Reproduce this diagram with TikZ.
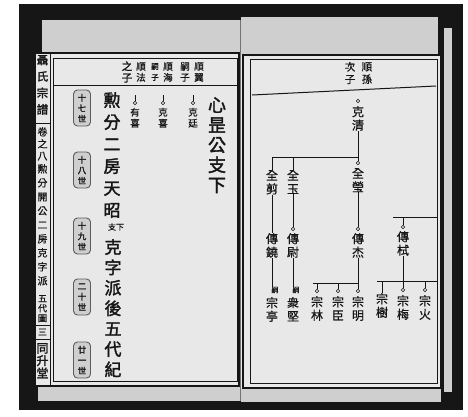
\documentclass[tikz,border=0pt]{standalone}
\usepackage{fontspec}
\newfontfamily\cjk{Noto Sans CJK TC}[FakeBold=0.8]
\newfontfamily\cjkb{Noto Sans CJK TC}[FakeBold=2]
\usetikzlibrary{positioning}
\definecolor{paper}{HTML}{E8E8E8}
\definecolor{strip}{HTML}{CFCFCF}
\definecolor{ink}{HTML}{161616}
\tikzset{
  member/.style={font=\cjk\fontsize{12}{13.5}\selectfont, align=center, inner sep=0pt, text=ink},
  smallcol/.style={font=\cjk\fontsize{9.5}{11}\selectfont, align=center, inner sep=0pt, text=ink},
  bigcol/.style={font=\cjkb\fontsize{17}{22}\selectfont, align=center, inner sep=0pt, text=ink},
  sidecol/.style={font=\cjk\fontsize{10}{14}\selectfont, align=center, inner sep=0pt, text=ink},
  ring/.style={circle, draw=ink, line width=0.6pt, minimum size=3.6pt, inner sep=0pt},
  sealbox/.style={draw=ink!70, fill=strip, line width=0.9pt, rounded corners=4pt,
    minimum width=17pt, minimum height=36pt, inner sep=0pt, align=center,
    font=\cjkb\fontsize{8.5}{10.5}\selectfont, text=ink},
  link/.style={draw=ink, line width=0.7pt}
}

\begin{document}
\begin{tikzpicture}[x=1pt,y=-1pt]
  \useasboundingbox (0,0) rectangle (468,416);
  \fill[white] (0,0) rectangle (468,416);
  \fill[ink] (19,4) rectangle (463,410);

  %% pages
  \fill[paper] (35,53) rectangle (240,386);
  \fill[strip] (42,20) rectangle (240,53);
  \fill[strip] (38,386) rectangle (240,401);
  \fill[paper] (241,55) rectangle (441,389);
  \fill[strip] (241,17) rectangle (438,55);
  \fill[strip] (241,389) rectangle (441,402);
  \fill[strip] (443,28) rectangle (452,392); % edge of next leaf
  \draw[ink, line width=0.5pt] (443,28) -- (443,392);
  \draw[ink!60, line width=0.6pt] (240,20) -- (240,401);

  %% left frame
  \draw[ink, line width=1.6pt] (35,53) rectangle (239,386);
  \draw[ink, line width=0.6pt] (50,53) -- (50,386);
  \draw[ink, line width=0.5pt] (53,58) rectangle (237,381);
  \draw[ink, line width=0.8pt] (53,85) -- (237,85);
  \draw[ink, line width=0.5pt] (35,123) -- (50,123);
  \draw[ink, line width=0.5pt] (35,325) -- (50,325);
  \draw[ink, line width=0.5pt] (35,339) -- (50,339);

  %% side column
  \node[sidecol, font=\cjkb\fontsize{11.5}{16.5}\selectfont, anchor=north] (title) at (42.5,55) {聶\\氏\\宗\\譜};
  \node[sidecol, font=\cjk\fontsize{10}{12}\selectfont, anchor=north] (juan) at (42.5,127) {卷\\之\\八};
  \node[sidecol, anchor=north] (chart) at (42.5,164) {勲\\分\\開\\公\\二\\房\\克\\字\\派};
  \node[sidecol, font=\cjk\fontsize{9}{9.8}\selectfont, anchor=north] (wudai) at (42.5,295) {五\\代\\圖};
  \node[sidecol, font=\cjk\fontsize{9}{10}\selectfont] (pageno) at (42.5,332) {三};
  \node[sidecol, font=\cjkb\fontsize{12}{12.5}\selectfont, anchor=north] (hall) at (42.5,343) {同\\升\\堂};

  %% left header
  \node[smallcol] (h1) at (199,72) {順\\翼};
  \node[smallcol] (h2) at (185,72) {嗣\\子};
  \node[smallcol] (h3) at (168,72) {順\\海};
  \node[smallcol, font=\cjk\fontsize{7.5}{11}\selectfont] (h4) at (155,72) {嗣\\子};
  \node[smallcol] (h5) at (141,72) {順\\法};
  \node[smallcol, font=\cjkb\fontsize{10.5}{11.5}\selectfont] (h6) at (127,72) {之\\子};

  %% left body
  \node[bigcol, font=\cjkb\fontsize{18}{20}\selectfont, anchor=north] (branch) at (217,97) {心\\昰\\公\\支\\下};
  \node[ring] (kt-o) at (193,103) {};
  \node[smallcol, below=2.5pt of kt-o] (kt) {克\\廷};
  \node[ring] (kx-o) at (163,103) {};
  \node[smallcol, below=2.5pt of kx-o] (kx) {克\\喜};
  \node[ring] (yx-o) at (135,103) {};
  \node[smallcol, below=2.5pt of yx-o] (yx) {有\\喜};
  \foreach \m in {kt,kx,yx} \draw[link] (\m-o.north) -- ++(0,-6);

  \node[bigcol, anchor=north] (intro) at (112,92) {勲\\分\\二\\房\\天\\昭};
  \node[smallcol, font=\cjk\fontsize{8}{9}\selectfont] (zx) at (116,227) {支下};
  \node[bigcol, font=\cjkb\fontsize{17}{20.4}\selectfont, anchor=north] (record) at (113,239) {克\\字\\派\\後\\五\\代\\紀};

  %% generation seals
  \foreach \g/\y [count=\i] in {十\\七\\世/108, 十\\八\\世/170, 十\\九\\世/236, 二\\十\\世/297, 廿\\一\\世/360}
    \node[sealbox] (seal\i) at (82,\y) {\g};

  %% right frame
  \draw[ink, line width=1.6pt] (243,55) rectangle (441,388);
  \draw[ink, line width=0.5pt] (250,59) rectangle (437,383);
  \draw[ink, line width=1pt] (252,95) -- (436,86);
  \node[smallcol, font=\cjk\fontsize{10.5}{12.5}\selectfont] (rh1) at (367,73) {順\\孫};
  \node[smallcol, font=\cjk\fontsize{10.5}{12.5}\selectfont] (rh2) at (350,73) {次\\子};

  %% generation 1
  \node[ring] (kq-o) at (358,101) {};
  \node[member, anchor=north] (kq) at (358,106) {克\\清};
  \coordinate (g2) at (358,157);
  \coordinate (g2l) at (272,157);
  \draw[link] (kq) -- (g2) -- (g2l);

  %% generation 2
  \node[member, anchor=north] (qj) at (272,170) {全\\剪};
  \node[member, anchor=north] (qyu) at (293,170) {全\\玉};
  \node[ring] (qy-o) at (358,163) {};
  \node[member, anchor=north] (qy) at (358,168) {全\\瑩};
  \draw[link] (g2l) -- (qj);
  \draw[link] (qyu |- g2) -- (qyu);
  \draw[link] (g2) -- (qy-o);

  %% generation 3
  \node[member, anchor=north] (cn) at (272,233) {傳\\鐃};
  \node[ring] (cw-o) at (293,229) {};
  \node[member, anchor=north] (cw) at (293,233) {傳\\尉};
  \node[ring] (cj-o) at (358,229) {};
  \node[member, anchor=north] (cj) at (358,233) {傳\\杰};
  \coordinate (g3r) at (437,217);
  \coordinate (g3) at (393,217);
  \node[ring] (cs-o) at (403,227) {};
  \node[member, anchor=north] (cs) at (403,231) {傳\\栻};
  \draw[link] (qj) -- (cn);
  \draw[link] (qyu) -- (cw-o);
  \draw[link] (qy) -- (cj-o);
  \draw[link] (g3) -- (g3r);
  \draw[link] (cs-o |- g3) -- (cs-o);

  %% generation 4
  \coordinate (g4a) at (313,283);
  \coordinate (g4b) at (377,281);
  \coordinate (g4c) at (437,281);
  \node[smallcol, font=\cjk\fontsize{7}{8}\selectfont] (st-s) at (275,290) {嗣};
  \node[member, anchor=north] (st) at (272,297) {宗\\亭};
  \node[smallcol, font=\cjk\fontsize{7}{8}\selectfont] (zj-s) at (296,290) {嗣};
  \node[member, anchor=north] (zj) at (293,297) {衆\\堅};
  \node[ring] (zl-o) at (317,291) {};
  \node[member, anchor=north] (zl) at (317,296) {宗\\林};
  \node[ring] (zc-o) at (338,291) {};
  \node[member, anchor=north] (zc) at (338,296) {宗\\臣};
  \node[ring] (zm-o) at (358,291) {};
  \node[member, anchor=north] (zm) at (358,296) {宗\\明};
  \node[member, anchor=north] (zs) at (382,293) {宗\\樹};
  \node[ring] (zb-o) at (403,290) {};
  \node[member, anchor=north] (zb) at (403,295) {宗\\梅};
  \node[ring] (zh-o) at (425,290) {};
  \node[member, anchor=north] (zh) at (425,295) {宗\\火};
  \draw[link] (cn) -- (cn |- st-s.north);
  \draw[link] (cw) -- (cw |- zj-s.north);
  \draw[link] (g4a) -- (zm-o |- g4a);
  \draw[link] (cj) -- (zm-o);
  \draw[link] (zl-o |- g4a) -- (zl-o);
  \draw[link] (zc-o |- g4a) -- (zc-o);
  \draw[link] (g4b) -- (g4c);
  \draw[link] (zs |- g4b) -- (zs);
  \draw[link] (cs) -- (zb-o);
  \draw[link] (zh-o |- g4b) -- (zh-o);

\end{tikzpicture}
\end{document}
